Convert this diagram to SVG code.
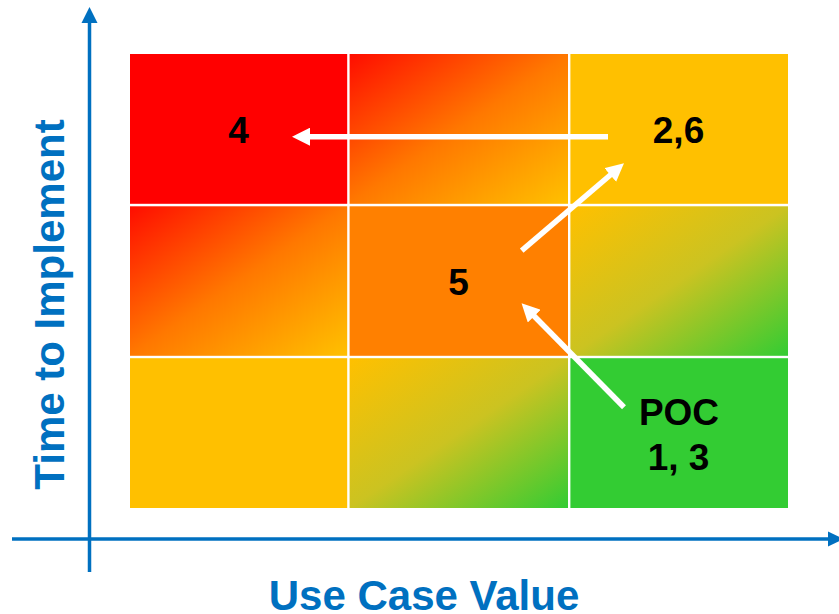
<svg xmlns="http://www.w3.org/2000/svg" width="839" height="614" viewBox="0 0 839 614">
<style>
.lbl{font-family:"Liberation Sans",Arial,sans-serif;font-weight:bold;font-size:37px;fill:#000;text-anchor:middle}
.ax{font-family:"Liberation Sans",Arial,sans-serif;font-weight:bold;font-size:42px;fill:#0070C0;text-anchor:middle}
.axis{stroke:#0070C0;stroke-width:3.5;fill:none}
.conn{stroke:#fff;stroke-width:5.5;fill:none}
</style>
<defs>
<linearGradient id="gRO" x1="0" y1="0" x2="1" y2="1"><stop offset="0" stop-color="#FF0D00"/><stop offset="0.5" stop-color="#FF7800"/><stop offset="1" stop-color="#FFC000"/></linearGradient>
<linearGradient id="gYG" x1="0" y1="0" x2="1" y2="1"><stop offset="0" stop-color="#FFC000"/><stop offset="0.5" stop-color="#CBC321"/><stop offset="1" stop-color="#33CC33"/></linearGradient>
<marker id="ah" viewBox="0 0 10 10" refX="3" refY="5" markerWidth="18" markerHeight="18" markerUnits="userSpaceOnUse" orient="auto"><path d="M0,0 L10,5 L0,10 z" fill="#fff"/></marker>
</defs>
<rect width="839" height="614" fill="#fff"/>
<g id="cell-r1c1"><rect x="130" y="54" width="217.2" height="149.8" fill="#FF0000"/><text class="lbl" x="238.5" y="143">4</text></g>
<g id="cell-r1c2"><rect x="349.6" y="54" width="218.4" height="149.8" fill="url(#gRO)"/></g>
<g id="cell-r1c3"><rect x="570.4" y="54" width="217.6" height="149.8" fill="#FFC000"/><text class="lbl" x="678.5" y="143">2,6</text></g>
<g id="cell-r2c1"><rect x="130" y="206.3" width="217.2" height="149.5" fill="url(#gRO)"/></g>
<g id="cell-r2c2"><rect x="349.6" y="206.3" width="218.4" height="149.5" fill="#FF8000"/><text class="lbl" x="458.5" y="295">5</text></g>
<g id="cell-r2c3"><rect x="570.4" y="206.3" width="217.6" height="149.5" fill="url(#gYG)"/></g>
<g id="cell-r3c1"><rect x="130" y="358.2" width="217.2" height="149.8" fill="#FFC000"/></g>
<g id="cell-r3c2"><rect x="349.6" y="358.2" width="218.4" height="149.8" fill="url(#gYG)"/></g>
<g id="cell-r3c3"><rect x="570.4" y="358.2" width="217.6" height="149.8" fill="#33CC33"/><text class="lbl" x="679" y="425">POC</text><text class="lbl" x="678.5" y="470">1, 3</text></g>
<g id="axes">
<line class="axis" x1="89.5" y1="22" x2="89.5" y2="572"/>
<polygon points="81.5,23 89.5,7 97.5,23" fill="#0070C0"/>
<line class="axis" x1="12" y1="539" x2="829" y2="539"/>
<polygon points="828,531.5 844,539 828,546.5" fill="#0070C0"/>
<text class="ax" transform="translate(64,304.5) rotate(-90)">Time to Implement</text>
<text class="ax" x="424" y="610">Use Case Value</text>
</g>
<g id="connectors">
<line class="conn" x1="608" y1="136.7" x2="304.6" y2="136.7" marker-end="url(#ah)"/>
<line class="conn" x1="521.7" y1="250.7" x2="614.4" y2="171.5" marker-end="url(#ah)"/>
<line class="conn" x1="624" y1="407.3" x2="530.4" y2="312.3" marker-end="url(#ah)"/>
</g>
</svg>
